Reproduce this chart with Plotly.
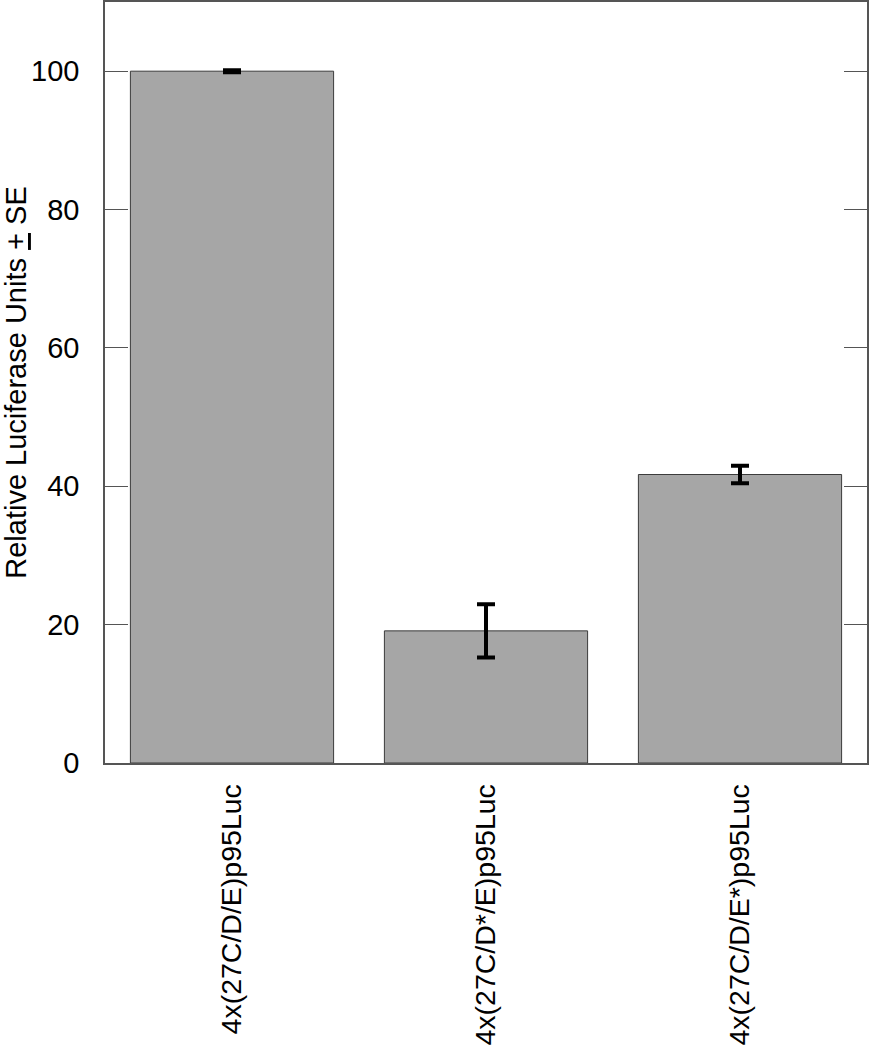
import plotly.graph_objects as go

categories = ["4x(27C/D/E)p95Luc", "4x(27C/D*/E)p95Luc", "4x(27C/D/E*)p95Luc"]
values = [100.0, 19.1, 41.7]
errors = [0.15, 3.85, 1.25]
y_ticks = [0, 20, 40, 60, 80, 100]

FONT = "Liberation Sans, Arial, sans-serif"
FS = 29

fig = go.Figure(
    go.Bar(
        x=categories,
        y=values,
        marker=dict(color="#a6a6a6", line=dict(color="#3c3c3c", width=1)),
        error_y=dict(type="data", array=errors, visible=True,
                     color="black", thickness=4, width=9),
        width=0.8,
    )
)

fig.update_layout(
    width=870, height=1050,
    margin=dict(l=105, r=3, t=2, b=287),
    paper_bgcolor="white", plot_bgcolor="white",
    font=dict(family=FONT, size=FS, color="black"),
    showlegend=False,
)

fig.update_xaxes(
    tickangle=-90,
    showline=True, linecolor="#555555", linewidth=1.5, mirror=True,
    ticks="", showgrid=False,
    ticklabelstandoff=8,
    tickfont=dict(size=28.5),
    automargin=False,
)

fig.update_yaxes(
    range=[0, 110],
    tickvals=y_ticks,
    showline=True, linecolor="#555555", linewidth=1.5, mirror="ticks",
    ticks="inside", ticklen=23, tickwidth=1.2, tickcolor="#555555",
    showgrid=False, zeroline=False,
    ticklabelstandoff=18,
    tickfont=dict(size=FS),
    title=dict(text="Relative Luciferase Units <u>+</u> SE", standoff=5,
               font=dict(size=FS)),
    automargin=False,
)

# remove the browser's default 8px body margin so the figure sits at the page origin
fig.write_html(
    "out.html",
    config={"displayModeBar": False},
    post_script="document.body.style.margin='0';document.body.style.overflow='hidden';",
)
